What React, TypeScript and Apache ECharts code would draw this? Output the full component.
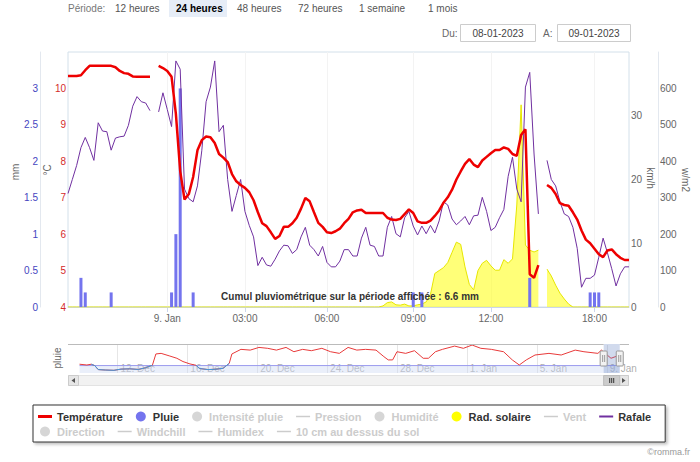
import React, { useEffect, useRef } from 'react';
import * as echarts from 'echarts';

// ---------- main chart (ordinal sample index on the x axis: 0 … 130) ----------
const TICK_IDX = [23, 41, 60, 80, 98, 122];
const TICK_LABELS = ['9. Jan', '03:00', '06:00', '09:00', '12:00', '18:00'];

const TEMP_C: (number | null)[] = [
  10.34, 10.34, 10.34, 10.36, 10.5, 10.62, 10.62, 10.62, 10.62, 10.62,
  10.62, 10.58, 10.48, 10.42, 10.4, 10.33, 10.32, 10.32, 10.32, 10.32,
  null, 10.62, 10.56, 10.48, 10.32, 9.3, 7.73, 6.95, 7.1, 7.57,
  8.3, 8.58, 8.68, 8.66, 8.5, 8.2, 8.1, 7.98, 7.65, 7.45,
  7.35, 7.27, 7.15, 6.93, 6.6, 6.3, 6.22, 6.05, 5.87, 5.95,
  6.2, 6.2, 6.3, 6.45, 6.7, 6.99, 6.9, 6.6, 6.31, 6.2,
  6.05, 6.03, 6.08, 6.15, 6.3, 6.42, 6.6, 6.65, 6.67, 6.58,
  6.58, 6.58, 6.58, 6.58, 6.45, 6.4, 6.39, 6.42, 6.55, 6.68,
  6.58, 6.35, 6.31, 6.31, 6.37, 6.5, 6.65, 6.86, 7.01, 7.22,
  7.5, 7.72, 7.93, 8.06, 7.91, 7.84, 8.02, 8.12, 8.22, 8.31,
  8.31, 8.38, 8.34, 8.2, 8.15, 8.72, 8.88, 4.9, 4.8, 5.15,
  null, 7.35, 7.27, 7.1, 6.85, 6.8, 6.78, 6.6, 6.4, 6.1,
  5.85, 5.75, 5.6, 5.45, 5.37, 5.55, 5.58, 5.45, 5.35, 5.29,
  5.29,
];

const GUST_KMH: (number | null)[] = [
  17.8, 20.0, 22.2, 25.0, 26.6, 25.0, 23.0, 28.9, 27.6, 27.5,
  24.6, 26.5, 26.7, 26.8, 28.5, 31.5, 33.0, 32.2, 32.0, 30.8,
  null, 30.6, 33.6, 31.0, 28.3, 38.6, 37.3, 18.5, 17.0, 16.5,
  19.0, 24.5, 32.2, 34.5, 38.6, 27.5, 28.5, 20.0, 15.0, 17.5,
  20.0, 15.0, 12.8, 11.0, 6.5, 7.8, 6.6, 6.4, 7.5, 8.8,
  9.7, 9.6, 8.4, 9.0, 11.0, 12.5, 9.7, 9.0, 8.0, 9.5,
  7.0, 6.3, 6.3, 7.2, 9.0, 9.0, 8.0, 8.0, 10.8, 12.5,
  9.7, 9.5, 8.0, 8.0, 12.5, 14.2, 11.5, 11.0, 14.0, 15.0,
  12.7, 11.3, 12.7, 11.5, 12.8, 11.6, 13.5, 16.5, 16.0, 13.8,
  12.9, 13.5, 14.2, 12.9, 14.3, 14.4, 17.2, 15.0, 12.0, 12.5,
  14.0, 15.3, 20.5, 23.5, 18.5, 16.5, 34.5, 36.8, 24.0, 14.6,
  null, 23.0, 20.0, 19.0, 16.5, 14.6, 14.2, 12.5, 9.2, 3.1,
  4.5, 4.5, 5.0, 7.8, 10.8, 8.5, 6.0, 3.3, 5.2, 6.3,
  6.3,
];

const SOLAR_WM2: (number | null)[] = [
  0, 0, 0, 0, 0, 0, 0, 0, 0, 0,
  0, 0, 0, 0, 0, 0, 0, 0, 0, 0,
  0, 0, 0, 0, 0, 0, 0, 0, 0, 0,
  0, 0, 0, 0, 0, 0, 0, 0, 0, 0,
  0, 0, 0, 0, 0, 0, 0, 0, 0, 0,
  0, 0, 0, 0, 0, 0, 0, 0, 0, 0,
  0, 0, 0, 0, 0, 0, 0, 0, 0, 0,
  0, 0, 0, 3, 12, 14, 6, 5, 8, 3,
  3, 6, 8, 14, 35, 92, 100, 108, 122, 150,
  178, 172, 110, 62, 47, 100, 120, 128, 113, 101,
  101, 130, 120, 132, 280, 555, 170, 156, 151, 156,
  null, 104, 85, 60, 38, 22, 8, 0, 0, 0,
  0, 0, 0, 0, 0, 0, 0, 0, 0, 0,
  0,
];

const RAIN_IDX = [3, 4, 10, 24, 25, 26, 29, 80, 82, 107, 121, 122, 123];
const RAIN_MM = [0.4, 0.2, 0.2, 0.2, 1.0, 3.0, 0.2, 0.2, 0.2, 0.4, 0.2, 0.2, 0.2];

// ---------- navigator (x = day, counted from 1 Dec; 32 = 1 Jan) ----------
const NAV_DAYS = [
  9.83, 10.25, 10.5, 10.7, 10.9, 11.3, 11.8, 12.2, 12.7, 13.2, 13.6, 14.0, 14.2, 14.5, 15.0,
  15.4, 15.75, 16.15, 16.5, 16.7, 17.2, 17.7, 18.05, 18.4, 18.55, 19.07, 19.6, 20.1, 20.6,
  21.1, 21.65, 22.1, 22.6, 23.1, 23.7, 24.2, 24.7, 25.2, 25.7, 26.2, 26.8, 27.25, 27.5,
  27.75, 28.0, 28.5, 29.0, 29.5, 29.8, 30.2, 30.6, 31.3, 31.8, 32.3, 32.8, 33.4, 34.1,
  34.6, 35.0, 35.4, 35.9, 36.7, 37.4, 38.2, 38.7, 39.5, 39.7, 40.25, 40.6,
];
const NAV_TEMP = [
  0.9, 0.4, 0.9, 0, -2.7, -3.0, -3.2, -2.4, -2.2, -2.6, -1.5, 0.2, 7.8, 8.2, 6.4,
  4.9, 2.7, 1.1, 0.2, -2.0, -2.7, -2.4, -1.8, 1.5, 7.8, 10.9, 10.4, 12.2, 11.6,
  10.4, 12.2, 9.3, 10.9, 10.0, 11.6, 9.3, 8.2, 12.2, 10.4, 10.9, 10.4, 6.0, 3.8,
  3.8, 9.3, 8.2, 10.0, 4.9, 4.9, 9.3, 10.9, 13.1, 11.6, 13.8, 11.6, 10.9, 9.3,
  3.8, 0.4, 3.8, 7.1, 8.2, 7.1, 10.4, 9.3, 8.2, 10.4, 4.9, 6.4,
];
const NAV_RAIN = [[9.83, 0], [40.75, 0]];
const NAV_TICKS = [12, 16, 20, 24, 28, 32, 36, 40];
const NAV_TICK_LABELS = ['12. Dec', '16. Dec', '20. Dec', '24. Dec', '28. Dec', '1. Jan', '5. Jan', '9. Jan'];
const NAV_WINDOW = [39.83, 40.75];
const NAV_MIN = 9.17;
const NAV_MAX = 41.28;
const NAV_YMIN = -5;
const NAV_YMAX = 14.5;

// ---------- page chrome ----------
const PERIODS = ['12 heures', '24 heures', '48 heures', '72 heures', '1 semaine', '1 mois'];
const PERIOD_SELECTED = 1;
const DATE_FROM = '08-01-2023';
const DATE_TO = '09-01-2023';

const LINE_THICK = 'path://M0,0H14V3H0Z';
const LINE_MED = 'path://M0,0H14V2H0Z';
const LINE_THIN = 'path://M0,0H14V1.5H0Z';
const LEGEND_ITEMS = [
  { name: 'Température', icon: LINE_THICK },
  { name: 'Pluie', icon: 'circle' },
  { name: 'Intensité pluie', icon: 'circle' },
  { name: 'Pression', icon: LINE_THIN },
  { name: 'Humidité', icon: 'circle' },
  { name: 'Rad. solaire', icon: 'circle' },
  { name: 'Vent', icon: LINE_THIN },
  { name: 'Rafale', icon: LINE_MED },
  { name: 'Direction', icon: 'circle' },
  { name: 'Windchill', icon: LINE_THIN },
  { name: 'Humidex', icon: LINE_THIN },
  { name: '10 cm au dessus du sol', icon: LINE_THIN },
];
const INACTIVE_LINES = ['Pression', 'Vent', 'Windchill', 'Humidex', '10 cm au dessus du sol'];
const INACTIVE_DOTS = ['Intensité pluie', 'Humidité', 'Direction'];

const FONT = "'Liberation Sans', Arial, Helvetica, sans-serif";

function buildOption() {
  const categories = TEMP_C.map((_, i) => String(i));
  const isTick = (i: number) => TICK_IDX.indexOf(i) >= 0;
  const rainSeries = TEMP_C.map((_, i) => {
    const k = RAIN_IDX.indexOf(i);
    return k >= 0 ? RAIN_MM[k] : null;
  });
  // navigator: frost stretches (≤ 0 °C and their neighbours) drawn in blue over the red line
  const navFrost = NAV_DAYS.map((d, k) => {
    const near = [k - 1, k, k + 1].some((j) => j >= 0 && j < NAV_TEMP.length && NAV_TEMP[j] <= 0);
    return [d, near ? NAV_TEMP[k] : null];
  });
  const totalRain = RAIN_MM.reduce((a, b) => a + b, 0).toFixed(1);
  const yPad = [0, 0, 8, 0];
  const hideMax = (max: number) => (v: number) => (v >= max - 1e-9 ? '' : String(v));

  const selected: Record<string, boolean> = {};
  [...INACTIVE_LINES, ...INACTIVE_DOTS].forEach((n) => (selected[n] = false));

  const dummy: any[] = [
    ...INACTIVE_LINES.map((n) => ({
      name: n, type: 'line', data: [], symbol: 'none', xAxisIndex: 0, yAxisIndex: 0,
      lineStyle: { width: 1.5, color: '#999' }, itemStyle: { color: '#999' },
    })),
    ...INACTIVE_DOTS.map((n) => ({
      name: n, type: 'scatter', data: [], xAxisIndex: 0, yAxisIndex: 0, itemStyle: { color: '#999' },
    })),
  ];

  return {
    animation: false,
    backgroundColor: '#ffffff',
    textStyle: { fontFamily: FONT },
    title: {
      text: `Cumul pluviométrique sur la période affichée : ${totalRain} mm`,
      left: 'center',
      top: 291,
      padding: 0,
      z: 20,
      textStyle: { fontSize: 10, fontWeight: 'bold', color: '#333', fontFamily: FONT },
    },
    grid: [
      { left: 68, right: 71, top: 52, height: 255, show: true, borderColor: '#d3e0ea', borderWidth: 1, backgroundColor: 'transparent' },
      { left: 68, right: 71, top: 344, height: 29 },
    ],
    xAxis: [
      {
        gridIndex: 0, type: 'category', data: categories, boundaryGap: false,
        axisLine: { show: true, lineStyle: { color: '#ccd6eb' } },
        axisTick: { show: true, length: 5, interval: (i: number) => isTick(i), lineStyle: { color: '#ccd6eb' } },
        axisLabel: {
          interval: (i: number) => isTick(i), color: '#666', fontSize: 10, fontFamily: FONT, margin: 6,
          formatter: (_v: string, i: number) => TICK_LABELS[TICK_IDX.indexOf(i)] ?? '',
        },
        splitLine: { show: true, interval: (i: number) => isTick(i), lineStyle: { color: '#f3f3f3' } },
      },
      {
        gridIndex: 1, type: 'value', min: NAV_MIN, max: NAV_MAX,
        axisLine: { show: false }, axisTick: { show: false }, axisLabel: { show: false }, splitLine: { show: false },
      },
    ],
    yAxis: [
      {
        gridIndex: 0, type: 'value', position: 'left', min: 4, max: 11, interval: 1,
        axisLine: { show: false }, axisTick: { show: false }, splitLine: { show: false },
        axisLabel: { color: '#d42a2a', fontSize: 10, fontFamily: FONT, margin: 2, padding: yPad, formatter: hideMax(11) },
      },
      {
        gridIndex: 0, type: 'value', position: 'left', offset: 28, min: 0, max: 3.5, interval: 0.5,
        axisLine: { show: true, lineStyle: { color: '#e3e8ef' } }, axisTick: { show: false }, splitLine: { show: false },
        axisLabel: { color: '#4545c0', fontSize: 10, fontFamily: FONT, margin: 2, padding: yPad, formatter: hideMax(3.5) },
      },
      {
        gridIndex: 0, type: 'value', position: 'right', min: 0, max: 40, interval: 10,
        axisLine: { show: false }, axisTick: { show: false }, splitLine: { show: false },
        axisLabel: { color: '#666', fontSize: 10, fontFamily: FONT, margin: 2, padding: yPad, formatter: hideMax(40) },
      },
      {
        gridIndex: 0, type: 'value', position: 'right', offset: 29, min: 0, max: 700, interval: 100,
        axisLine: { show: true, lineStyle: { color: '#e3e8ef' } }, axisTick: { show: false }, splitLine: { show: false },
        axisLabel: { color: '#666', fontSize: 10, fontFamily: FONT, margin: 2, padding: yPad, formatter: hideMax(700) },
      },
      {
        gridIndex: 1, type: 'value', min: NAV_YMIN, max: NAV_YMAX, show: false,
      },
    ],
    legend: {
      left: 33, top: 405, width: 640,
      padding: [6, 5, 5, 5], itemGap: 4, itemWidth: 14, itemHeight: 10,
      borderColor: '#333', borderWidth: 1, backgroundColor: '#fff',
      shadowColor: 'rgba(0,0,0,0.25)', shadowBlur: 3, shadowOffsetX: 2, shadowOffsetY: 2,
      inactiveColor: '#cccccc', symbolKeepAspect: true,
      textStyle: { fontFamily: FONT, fontSize: 11, fontWeight: 'bold', color: '#333', lineHeight: 10, padding: [0, 9, 0, 0] },
      data: LEGEND_ITEMS.map((it) => ({ name: it.name, icon: it.icon })),
      selected,
    },
    series: [
      {
        name: 'Rad. solaire', type: 'line', xAxisIndex: 0, yAxisIndex: 3, data: SOLAR_WM2,
        symbol: 'none', lineStyle: { color: '#e6e600', width: 1 }, itemStyle: { color: '#ffff00' },
        areaStyle: { color: 'rgba(255,255,20,0.82)' }, z: 1,
      },
      {
        name: 'Pluie', type: 'bar', xAxisIndex: 0, yAxisIndex: 1, data: rainSeries, barWidth: 3,
        itemStyle: { color: '#7474ee' }, z: 2,
      },
      {
        name: 'Rafale', type: 'line', xAxisIndex: 0, yAxisIndex: 2, data: GUST_KMH,
        symbol: 'none', lineStyle: { color: '#7030a0', width: 1 }, itemStyle: { color: '#7030a0' }, z: 3,
      },
      {
        name: 'Température', type: 'line', xAxisIndex: 0, yAxisIndex: 0, data: TEMP_C,
        symbol: 'none', lineStyle: { color: '#ee0000', width: 2.5 }, itemStyle: { color: '#ee0000' }, z: 4,
      },
      {
        name: 'nav-temp', type: 'line', xAxisIndex: 1, yAxisIndex: 4,
        data: NAV_DAYS.map((d, k) => [d, NAV_TEMP[k]]), symbol: 'none',
        lineStyle: { width: 1, color: '#e83a3a' }, itemStyle: { color: '#e83a3a' }, z: 3,
      },
      {
        name: 'nav-frost', type: 'line', xAxisIndex: 1, yAxisIndex: 4, data: navFrost, symbol: 'none',
        lineStyle: { width: 1, color: '#3d9be0' }, itemStyle: { color: '#3d9be0' }, z: 4,
      },
      {
        name: 'nav-pluie', type: 'line', xAxisIndex: 1, yAxisIndex: 4, data: NAV_RAIN, symbol: 'none',
        lineStyle: { color: '#9a9aee', width: 1 }, itemStyle: { color: '#9a9aee' },
        areaStyle: { color: 'rgba(205,218,242,0.6)', origin: 'start' }, z: 2,
      },
      {
        name: 'nav-dates', type: 'scatter', xAxisIndex: 1, yAxisIndex: 4, silent: true,
        data: NAV_TICKS.map((d) => [d, NAV_YMIN]), symbolSize: 0, z: 1,
        label: {
          show: true, position: 'right', distance: 3, offset: [0, -5], color: '#999', fontSize: 10, fontFamily: FONT,
          formatter: (p: any) => NAV_TICK_LABELS[p.dataIndex],
        },
      },
      ...dummy,
    ],
  };
}

function buildGraphics(chart: any) {
  const g: any[] = [];
  const txt = (x: number, y: number, text: string, fill: string, opts: any = {}) => ({
    type: 'text', x, y, z: 50, rotation: opts.rotation || 0,
    style: { text, fill, font: `${opts.weight || 'normal'} ${opts.size || 10}px ${FONT}`, align: opts.align || 'left', verticalAlign: 'middle' },
  });
  // axis titles
  g.push(txt(15, 172, 'mm', '#666', { align: 'center', rotation: Math.PI / 2 }));
  g.push(txt(47, 170, '°C', '#666', { align: 'center', rotation: Math.PI / 2 }));
  g.push(txt(650, 178, 'km/h', '#666', { align: 'center', rotation: -Math.PI / 2 }));
  g.push(txt(685, 180, 'w/m2', '#666', { align: 'center', rotation: -Math.PI / 2 }));
  // period selector
  const PERIOD_X = [115, 176, 237, 298, 359, 428];
  g.push(txt(68, 8, 'Période:', '#777'));
  g.push({ type: 'rect', shape: { x: 169, y: 0, width: 58, height: 17 }, style: { fill: '#e6edf7' }, z: 40 });
  PERIODS.forEach((p, i) =>
    g.push(txt(PERIOD_X[i], 8, p, i === PERIOD_SELECTED ? '#000' : '#555', { weight: i === PERIOD_SELECTED ? 'bold' : 'normal' })),
  );
  // date range
  g.push(txt(442, 33, 'Du:', '#666'));
  g.push({ type: 'rect', shape: { x: 460.5, y: 24.5, width: 75, height: 17 }, style: { fill: '#fff', stroke: '#cccccc' }, z: 40 });
  g.push(txt(498, 33, DATE_FROM, '#444', { align: 'center' }));
  g.push(txt(543, 33, 'A:', '#666'));
  g.push({ type: 'rect', shape: { x: 557.5, y: 24.5, width: 73, height: 17 }, style: { fill: '#fff', stroke: '#cccccc' }, z: 40 });
  g.push(txt(594, 33, DATE_TO, '#444', { align: 'center' }));

  // navigator grid lines, window, outline + handles
  NAV_TICKS.forEach((d) => {
    const px = Math.round(chart.convertToPixel({ xAxisIndex: 1 }, d)) + 0.5;
    g.push({ type: 'line', shape: { x1: px, y1: 345, x2: px, y2: 373 }, style: { stroke: '#e6e6e6', lineWidth: 1 }, z: 0 });
  });
  g.push(txt(57, 358, 'pluie', '#666', { align: 'center', rotation: Math.PI / 2 }));
  const x0 = chart.convertToPixel({ xAxisIndex: 1 }, NAV_WINDOW[0]);
  const x1 = chart.convertToPixel({ xAxisIndex: 1 }, NAV_WINDOW[1]);
  g.push({ type: 'rect', shape: { x: x0, y: 344, width: x1 - x0, height: 29 }, style: { fill: 'rgba(102,133,194,0.3)' }, z: 44 });
  g.push({ type: 'line', shape: { x1: 68, y1: 344.5, x2: x0, y2: 344.5 }, style: { stroke: '#bbbbbb', lineWidth: 1 }, z: 45 });
  g.push({ type: 'line', shape: { x1: x1, y1: 344.5, x2: 629, y2: 344.5 }, style: { stroke: '#bbbbbb', lineWidth: 1 }, z: 45 });
  [x0, x1].forEach((hx) => {
    g.push({ type: 'rect', shape: { x: hx - 3.5, y: 351, width: 7, height: 15, r: 1 }, style: { fill: '#f2f2f2', stroke: '#999', lineWidth: 1 }, z: 46 });
    g.push({ type: 'line', shape: { x1: hx - 1, y1: 355, x2: hx - 1, y2: 362 }, style: { stroke: '#999', lineWidth: 1 }, z: 47 });
    g.push({ type: 'line', shape: { x1: hx + 1, y1: 355, x2: hx + 1, y2: 362 }, style: { stroke: '#999', lineWidth: 1 }, z: 47 });
  });
  // scrollbar
  g.push({ type: 'rect', shape: { x: 68.5, y: 375.5, width: 560, height: 10 }, style: { fill: '#f2f2f2', stroke: '#e3e3e3' }, z: 40 });
  g.push({ type: 'rect', shape: { x: 68.5, y: 375.5, width: 10, height: 10 }, style: { fill: '#e6e6e6', stroke: '#cccccc' }, z: 41 });
  g.push({ type: 'polygon', shape: { points: [[75, 378], [75, 383], [71.5, 380.5]] }, style: { fill: '#555' }, z: 42 });
  g.push({ type: 'rect', shape: { x: 618.5, y: 375.5, width: 10, height: 10 }, style: { fill: '#e6e6e6', stroke: '#cccccc' }, z: 41 });
  g.push({ type: 'polygon', shape: { points: [[622, 378], [622, 383], [625.5, 380.5]] }, style: { fill: '#555' }, z: 42 });
  g.push({ type: 'rect', shape: { x: x0, y: 375.5, width: x1 - x0, height: 10 }, style: { fill: '#cccccc', stroke: '#bbbbbb' }, z: 41 });
  const cx = (x0 + x1) / 2;
  [-2, 0, 2].forEach((d) =>
    g.push({ type: 'line', shape: { x1: cx + d, y1: 378, x2: cx + d, y2: 383 }, style: { stroke: '#333', lineWidth: 1 }, z: 42 }),
  );
  // credit
  g.push(txt(690, 452, '©romma.fr', '#999', { size: 9, align: 'right' }));
  return g;
}

export default function App() {
  const ref = useRef<HTMLDivElement>(null);
  useEffect(() => {
    if (!ref.current) return;
    const chart = echarts.init(ref.current, null, { renderer: 'svg' });
    chart.setOption(buildOption() as any);
    chart.setOption({ graphic: buildGraphics(chart) } as any);
    return () => chart.dispose();
  }, []);
  return (
    <div
      ref={ref}
      style={{ position: 'fixed', left: 0, top: 0, width: 700, height: 462, background: '#fff' }}
    />
  );
}
